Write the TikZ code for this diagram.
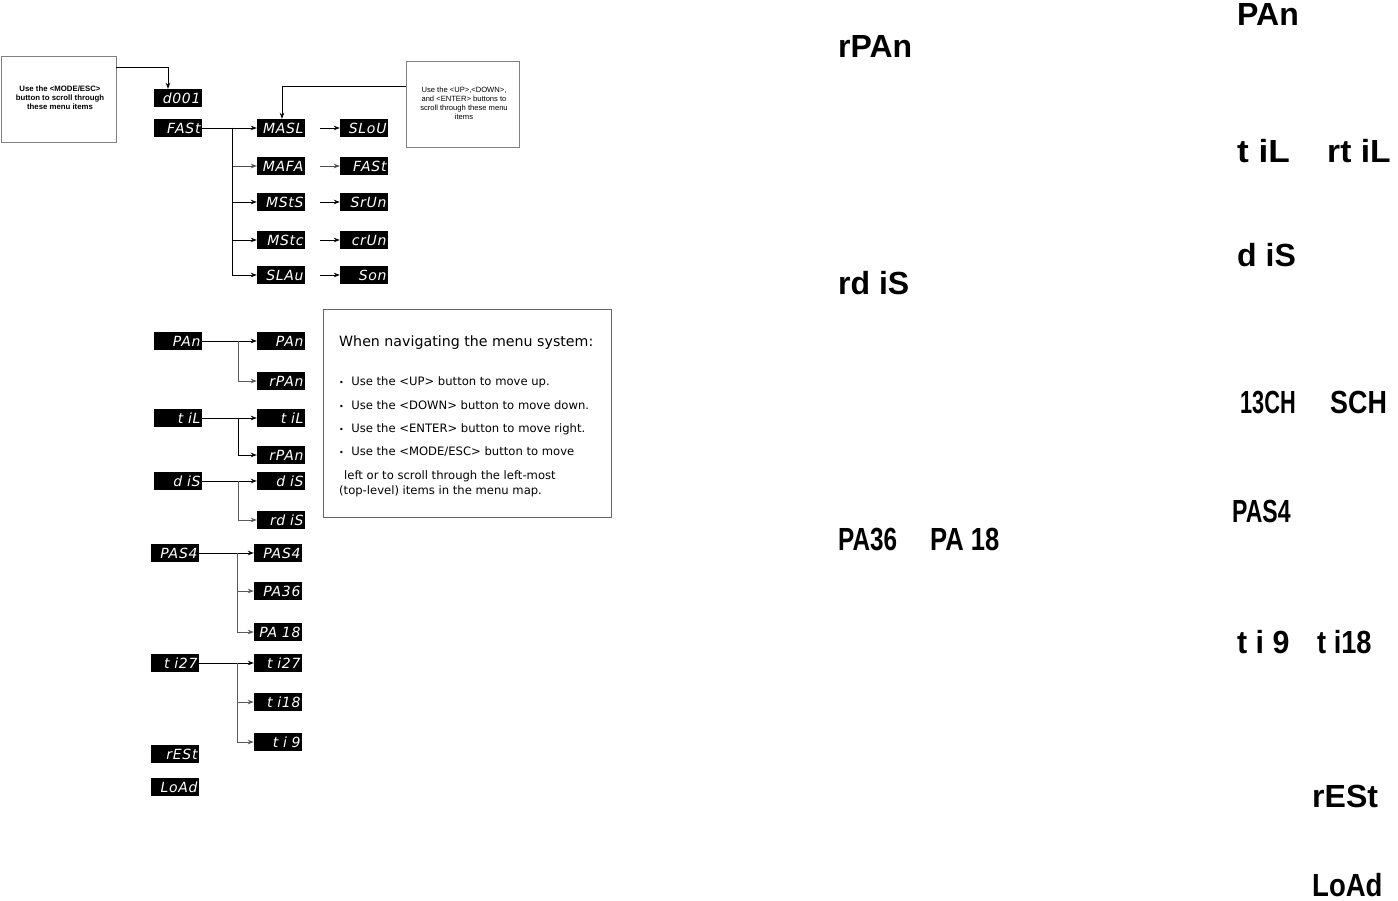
\documentclass[tikz,border=0pt]{standalone}
\usepackage{fontspec}
\setmainfont{Liberation Sans}
\newfontfamily\verd{DejaVu Sans}
\newfontfamily\segf[LetterSpace=5]{DejaVu Sans}
\usetikzlibrary{arrows.meta,calc}
\begin{document}
\begin{tikzpicture}[x=1pt,y=-1pt,
  seg/.style={fill=black, text=white, font=\segf\itshape\fontsize{14}{14}\selectfont,
    minimum width=48pt, minimum height=18pt, inner sep=0pt, text width=45pt, align=right},
  arr/.style={-{Stealth[length=6pt,width=4.5pt]}, line width=0.8pt},
  gln/.style={line width=0.8pt, black!65, -{Stealth[length=6pt,width=4.5pt]}},
  info/.style={draw=black!50, line width=0.6pt, inner sep=0pt},
  big/.style={font=\bfseries\fontsize{32}{32}\selectfont, anchor=base west, inner sep=0pt},
  nav/.style={font=\verd\fontsize{11.6}{11.6}\selectfont, anchor=west, inner sep=0pt}]
\useasboundingbox (0,0) rectangle (1398,901);
\fill[white] (0,0) rectangle (1398,901);

% info boxes
\node[info, minimum width=115pt, minimum height=86pt] (modebox) at (58.5,99) {};
\node[font=\bfseries\fontsize{7.8}{9}\selectfont, align=center] (modetext) at (60,98) {Use the <MODE/ESC>\\button to scroll through\\these menu items};
\node[info, minimum width=113pt, minimum height=86pt] (upbox) at (462.5,104) {};
\node[font=\fontsize{7.6}{9}\selectfont, align=center] (uptext) at (464,103) {Use the <UP>,<DOWN>,\\and <ENTER> buttons to\\scroll through these menu\\items};

% top menu
\node[seg] (d001) at (178,98) {d001};
\node[seg] (fast) at (178,128) {FASt};
\node[seg] (masl) at (281,128) {MASL};
\node[seg] (slou) at (364,128) {SLoU};
\node[seg] (mafa) at (281,166) {MAFA};
\node[seg] (fast2) at (364,166) {FASt};
\node[seg] (msts) at (281,202) {MStS};
\node[seg] (srun) at (364,202) {SrUn};
\node[seg] (mstc) at (281,240) {MStc};
\node[seg] (crun) at (364,240) {crUn};
\node[seg] (slav) at (281,275) {SLAu};
\node[seg] (son) at (364,275) {Son};

\draw[arr] ($(modebox.north east)+(0,12)$) -| ([xshift=-10pt]d001.north);
\draw[arr] ($(upbox.north west)+(0,26)$) -| ([xshift=1pt]masl.north);

\coordinate (j1) at (232,128);
\draw[arr] (fast.east) -- (masl.west);
\draw[arr, black!70] (j1) |- (mafa.west);
\draw[arr] (j1) |- (msts.west);
\draw[arr] (j1) |- (mstc.west);
\draw[arr] (j1) |- (slav.west);
\draw[arr, shorten <=15pt] (masl.east) -- (slou.west);
\draw[arr, black!70, shorten <=15pt] (mafa.east) -- (fast2.west);
\draw[arr, shorten <=15pt] (msts.east) -- (srun.west);
\draw[arr, shorten <=15pt] (mstc.east) -- (crun.west);
\draw[arr, shorten <=15pt] (slav.east) -- (son.west);

% lower menu
\node[seg] (pan) at (178,341) {PAn};
\node[seg] (pan2) at (281,341) {PAn};
\node[seg] (rpan) at (281,381) {rPAn};
\node[seg] (til) at (178,418) {t iL};
\node[seg] (til2) at (281,418) {t iL};
\node[seg] (rpan2) at (281,455) {rPAn};
\node[seg] (dis) at (178,481) {d iS};
\node[seg] (dis2) at (281,481) {d iS};
\node[seg] (rdis) at (281,520) {rd iS};
\node[seg] (pas4) at (175,553) {PAS4};
\node[seg] (pas42) at (278,553) {PAS4};
\node[seg] (pa36) at (278,591) {PA36};
\node[seg] (pa18) at (278,632) {PA 18};
\node[seg] (ti27) at (175,663) {t i27};
\node[seg] (ti272) at (278,663) {t i27};
\node[seg] (ti18) at (278,702) {t i18};
\node[seg] (ti9) at (278,742) {t i 9};
\node[seg] (rest) at (175,754) {rESt};
\node[seg] (load) at (175,787) {LoAd};

\coordinate (k1) at (238,341);
\coordinate (k2) at (238,418);
\coordinate (k3) at (238,481);
\coordinate (k4) at (237,553);
\coordinate (k5) at (237,663);
\draw[arr] (pan.east) -- (pan2.west);
\draw[gln] (k1) |- (rpan.west);
\draw[arr] (til.east) -- (til2.west);
\draw[arr] (k2) |- (rpan2.west);
\draw[arr] (dis.east) -- (dis2.west);
\draw[gln] (k3) |- (rdis.west);
\draw[arr] (pas4.east) -- (pas42.west);
\draw[gln] (k4) |- (pa36.west);
\draw[gln] (k4) |- (pa18.west);
\draw[arr] (ti27.east) -- (ti272.west);
\draw[gln] (k5) |- (ti18.west);
\draw[gln] (k5) |- (ti9.west);

% navigation box
\node[info, draw=black!60, minimum width=288pt, minimum height=208pt] (navbox) at (467,413) {};
\node[nav, font=\verd\fontsize{14.2}{14.2}\selectfont] (h) at (339,343) {When navigating the menu system:};
\node[nav] (b1) at (339,382) {{\fontsize{8}{8}\selectfont\textbullet}\ \ Use the <UP> button to move up.};
\node[nav] (b2) at (339,405) {{\fontsize{8}{8}\selectfont\textbullet}\ \ Use the <DOWN> button to move down.};
\node[nav] (b3) at (339,429) {{\fontsize{8}{8}\selectfont\textbullet}\ \ Use the <ENTER> button to move right.};
\node[nav] (b4) at (339,452) {{\fontsize{8}{8}\selectfont\textbullet}\ \ Use the <MODE/ESC> button to move};
\node[nav] (b5) at (344,476) {left or to scroll through the left-most};
\node[nav] (b6) at (339,491) {(top-level) items in the menu map.};

% large display labels
\node[big] (l1) at (838,58) {rPAn};
\node[big] (l2) at (838,295) {rd iS};
\node[big, xscale=0.76] (l3) at (838,550) {PA36};
\node[big, xscale=0.8] (l4) at (930,550) {PA 18};
\node[big] (l5) at (1237,26) {PAn};
\node[big, xscale=1.1] (l6) at (1237,163) {t iL};
\node[big, xscale=1.05] (l7) at (1327,163) {rt iL};
\node[big] (l8) at (1237,267) {d iS};
\node[big, xscale=0.68] (l9) at (1240,413) {13CH};
\node[big, xscale=0.84] (l10) at (1330,413) {SCH};
\node[big, xscale=0.72] (l11) at (1232,522) {PAS4};
\node[big, xscale=0.95] (l12) at (1237,653) {t i 9};
\node[big, xscale=0.85] (l13) at (1317,653) {t i18};
\node[big] (l14) at (1312,807) {rESt};
\node[big, xscale=0.86] (l15) at (1312,896) {LoAd};
\end{tikzpicture}
\end{document}
